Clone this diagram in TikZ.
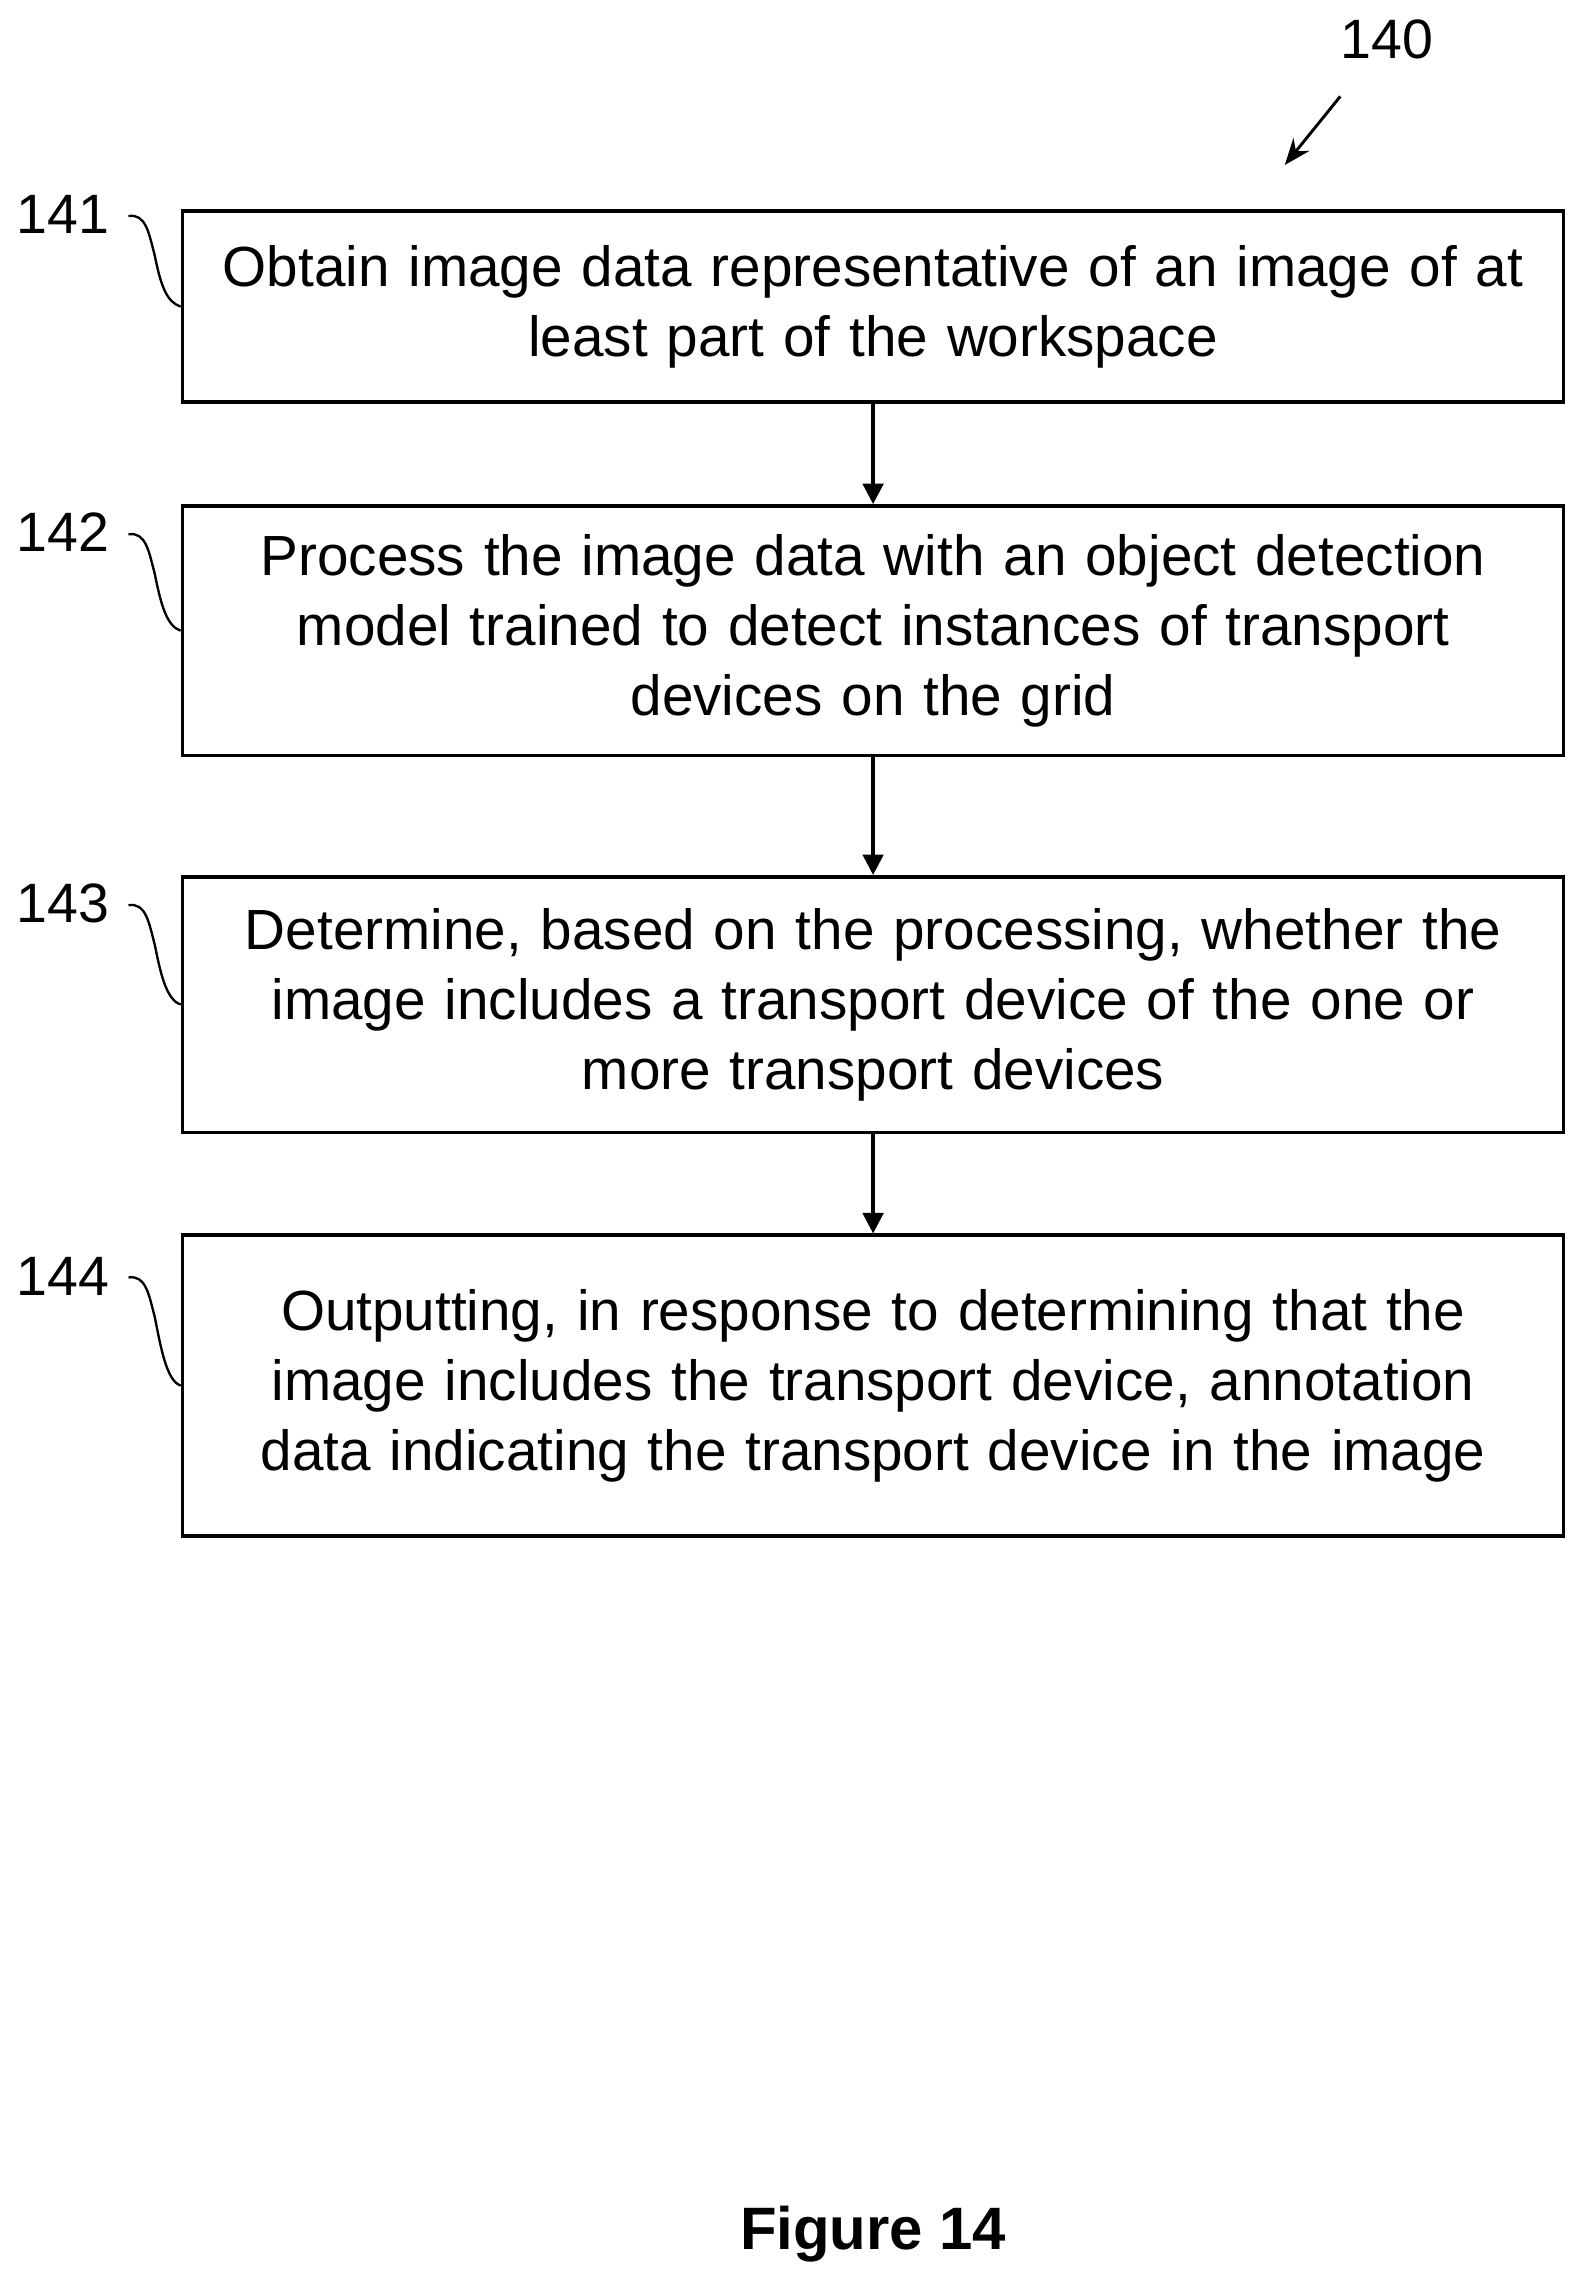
\documentclass[tikz,border=0pt]{standalone}
\usepackage{fontspec}
\setmainfont{Liberation Sans}
\usetikzlibrary{arrows.meta, positioning}

\begin{document}
\begin{tikzpicture}[
        x=0.5pt, y=-0.5pt,
        box/.style={rectangle, draw=black, line width=1.2pt, minimum width=473pt, align=center, text width=465pt, font=\fontsize{19.4}{24}\selectfont, inner sep=0pt},
        arrow/.style={-{Triangle[length=7pt, width=7pt]}, line width=1.2pt},
        tag/.style={font=\fontsize{19}{22}\selectfont, anchor=base},
        squig/.style={line width=0.8pt}
    ]
        \useasboundingbox (0,0) rectangle (1085,1563);

        % Steps
        \node[box, minimum height=65.5pt] (obtain) at (598,210) {Obtain image data representative of an image of at\\least part of the workspace};
        \node[box, minimum height=85.5pt] (process) at (598,432) {Process the image data with an object detection\\model trained to detect instances of transport\\devices on the grid};
        \node[box, minimum height=87.5pt] (determine) at (598,688) {Determine, based on the processing, whether the\\image includes a transport device of the one or\\more transport devices};
        \node[box, minimum height=103pt] (output) at (598,949) {Outputting, in response to determining that the\\image includes the transport device, annotation\\data indicating the transport device in the image};

        % Arrows
        \draw[arrow] (obtain) -- (process);
        \draw[arrow] (process) -- (determine);
        \draw[arrow] (determine) -- (output);

        % Reference numerals
        \foreach \name/\num/\yy/\yb in {obtain/141/160/210, process/142/378/432, determine/143/632/688, output/144/887/949} {
            \node[tag] (lbl\num) at (43,\yy) {\num};
            \draw[squig] (88,\yy-12) .. controls (100,\yy-14) and (102,\yy) .. (106,\yy+15)
                .. controls (110,\yy+35) and (114,\yb-3) .. (\name.west |- 0,\yb);
        }

        % Figure reference
        \node[tag] (fig) at (950,40) {140};
        \coordinate (figtip) at (880,113);
        \draw[-{Stealth[length=9pt, width=7pt]}, line width=1pt] (918,66) -- (figtip);

        % Caption
        \node[font=\fontsize{20.5}{24}\selectfont\bfseries] (caption) at (598,1530) {Figure 14};
    \end{tikzpicture}
\end{document}
